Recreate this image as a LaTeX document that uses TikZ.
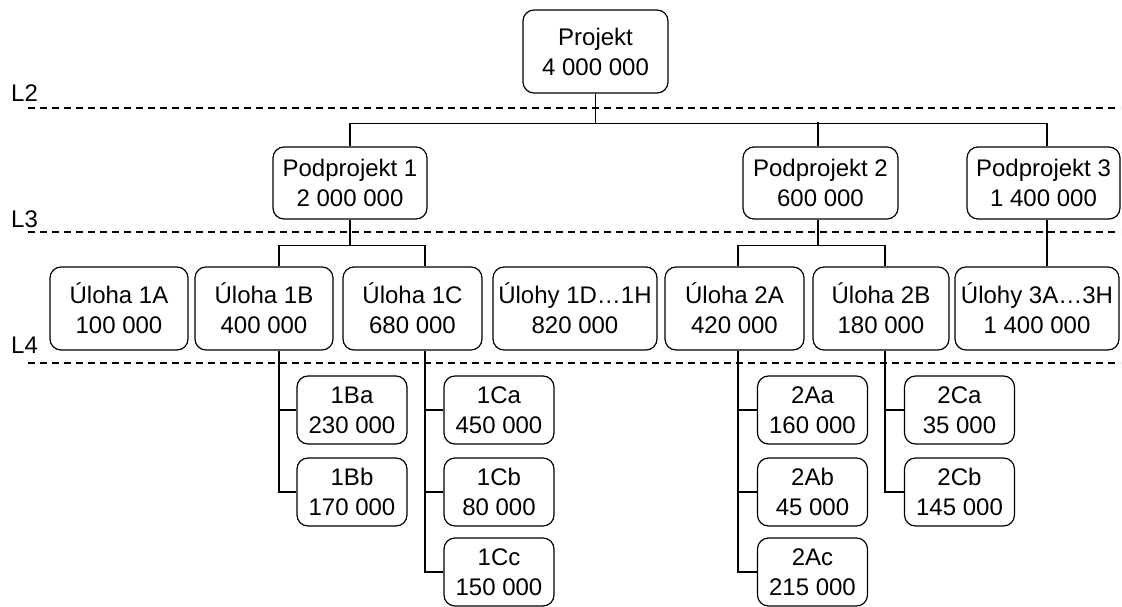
\documentclass[tikz,border=0pt]{standalone}
\usepackage{fontspec}
\setmainfont{Liberation Sans}
\usetikzlibrary{calc}
\begin{document}
\begin{tikzpicture}[x=1pt,y=-1pt,
  box/.style={draw, line width=1.2pt, rounded corners=11pt, align=center, inner sep=0pt, font=\fontsize{24}{30}\selectfont},
  topbox/.style={box, minimum height=83pt},
  midbox/.style={box, minimum height=72pt},
  taskbox/.style={box, minimum height=83pt},
  subbox/.style={box, minimum width=110pt, minimum height=68pt},
  conn/.style={line width=1.2pt},
  levelline/.style={line width=1.1pt, dash pattern=on 7pt off 5pt},
  lbl/.style={anchor=base west, inner sep=0pt, font=\fontsize{24}{30}\selectfont}]
\useasboundingbox (0,0) rectangle (1122,607);

% level lines and labels
\draw[levelline] (28,108) -- (1120,108);
\draw[levelline] (28,232) -- (1120,232);
\draw[levelline] (28,363) -- (1120,363);
\node[lbl] (l2) at (11,102) {L2};
\node[lbl] (l3) at (11,227) {L3};
\node[lbl] (l4) at (11,353) {L4};

% nodes
\node[topbox, minimum width=145pt] (proj) at (595.5,51.5) {Projekt\\4 000 000};
\node[midbox, minimum width=154pt] (p1) at (350,183) {Podprojekt 1\\2 000 000};
\node[midbox, minimum width=155pt] (p2) at (820.5,183) {Podprojekt 2\\600 000};
\node[midbox, minimum width=153pt] (p3) at (1043.5,183) {Podprojekt 3\\1 400 000};

\node[taskbox, minimum width=138pt] (a1) at (119,308.5) {Úloha 1A\\100 000};
\node[taskbox, minimum width=138pt] (b1) at (264,308.5) {Úloha 1B\\400 000};
\node[taskbox, minimum width=139pt] (c1) at (412.5,308.5) {Úloha 1C\\680 000};
\node[taskbox, minimum width=164pt] (d1) at (575,308.5) {Úlohy 1D…1H\\820 000};
\node[taskbox, minimum width=139pt] (a2) at (734.5,308.5) {Úloha 2A\\420 000};
\node[taskbox, minimum width=136pt] (b2) at (881,308.5) {Úloha 2B\\180 000};
\node[taskbox, minimum width=164pt] (u3) at (1037,308.5) {Úlohy 3A…3H\\1 400 000};

\node[subbox] (ba) at (352,410) {1Ba\\230 000};
\node[subbox] (bb) at (352,492) {1Bb\\170 000};
\node[subbox] (ca) at (499,410) {1Ca\\450 000};
\node[subbox] (cb) at (499,492) {1Cb\\80 000};
\node[subbox] (cc) at (499,572) {1Cc\\150 000};
\node[subbox] (aa) at (812.5,410) {2Aa\\160 000};
\node[subbox] (ab) at (812.5,492) {2Ab\\45 000};
\node[subbox] (ac) at (812.5,572) {2Ac\\215 000};
\node[subbox] (xa) at (959.5,410) {2Ca\\35 000};
\node[subbox] (xb) at (959.5,492) {2Cb\\145 000};

% connectors: level 1 -> 2
\draw[conn] (proj.south) -- ++(0,30);
\draw[conn] (p1.north) |- ($(proj.south)+(0,30)$) -| ($(p3.north)+(3.5,0)$);
\draw[conn] ($(p2.north)+(-2.5,0)$) -- ++(0,-24);

% level 2 -> 3
\draw[conn] (p1.south) -- ++(0,26);
\draw[conn] ($(b1.north)+(15,0)$) |- ($(p1.south)+(0,26)$) -| ($(c1.north)+(12.5,0)$);
\draw[conn] ($(p2.south)+(-2.5,0)$) -- ++(0,26);
\draw[conn] ($(a2.north)+(3.5,0)$) |- ($(p2.south)+(-2.5,26)$) -| ($(b2.north)+(4,0)$);
\draw[conn] ($(p3.south)+(3.5,0)$) -- ($(u3.north)+(10,0)$);

% level 3 -> 4
\draw[conn] ($(b1.south)+(15,0)$) |- (ba.west);
\draw[conn] ($(b1.south)+(15,0)$) |- (bb.west);
\draw[conn] ($(c1.south)+(12.5,0)$) |- (ca.west);
\draw[conn] ($(c1.south)+(12.5,0)$) |- (cb.west);
\draw[conn] ($(c1.south)+(12.5,0)$) |- (cc.west);
\draw[conn] ($(a2.south)+(3.5,0)$) |- (aa.west);
\draw[conn] ($(a2.south)+(3.5,0)$) |- (ab.west);
\draw[conn] ($(a2.south)+(3.5,0)$) |- (ac.west);
\draw[conn] ($(b2.south)+(4,0)$) |- (xa.west);
\draw[conn] ($(b2.south)+(4,0)$) |- (xb.west);
\end{tikzpicture}
\end{document}
